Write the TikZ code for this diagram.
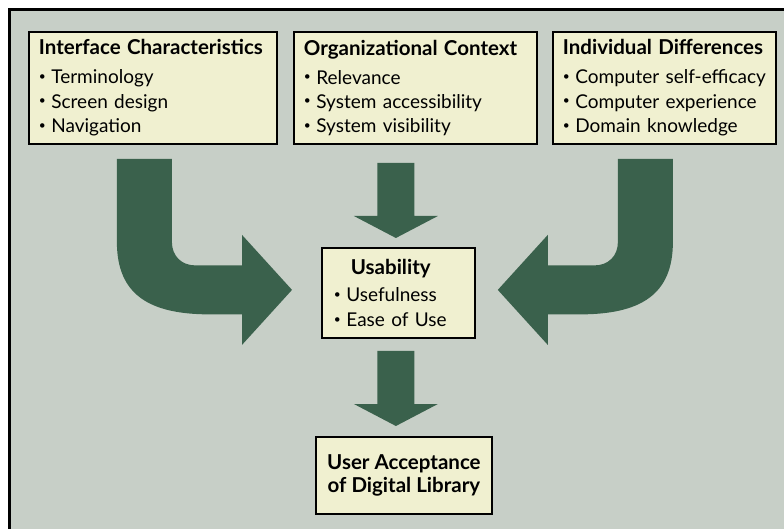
\documentclass[tikz,border=0pt]{standalone}
\usepackage{fontspec}
\setmainfont{Lato}
\usetikzlibrary{calc}

\definecolor{bggrey}{RGB}{199,207,199}
\definecolor{boxfill}{RGB}{240,240,208}
\definecolor{arrowgreen}{RGB}{58,97,76}

\newcommand{\headfont}{\fontsize{20.5}{24.3}\selectfont\bfseries}
\newcommand{\itemfont}{\fontsize{19}{24.3}\selectfont}
\newcommand{\bul}[1]{\mbox{\raisebox{3.5pt}{\fontsize{12}{12}\selectfont\textbullet}\kern5.5pt #1}}

% straight fat arrow: top of shaft, tip
\newcommand{\fatdown}[2]{%
  \fill[arrowgreen] let \p1=#1, \p2=#2 in
    (\x2-18.5pt,\y1) -- (\x2+18.5pt,\y1) -- (\x2+18.5pt,\y2+22pt)
    -- (\x2+42pt,\y2+22pt) -- (\x2,\y2) -- (\x2-42pt,\y2+22pt)
    -- (\x2-18.5pt,\y2+22pt) -- cycle;}

% bent fat arrow: top of shaft, tip, side (1 right, -1 left)
\newcommand{\bentarrow}[3]{%
  \fill[arrowgreen] let \p1=#1, \p2=#2, \n1={#3} in
    (\x1-\n1*27.5pt,\y1) -- (\x1+\n1*27.5pt,\y1)
    -- (\x1+\n1*27.5pt,\y2+48pt)
    .. controls (\x1+\n1*27.5pt,\y2+34pt) and (\x1+\n1*37pt,\y2+24.5pt) .. (\x1+\n1*51pt,\y2+24.5pt)
    -- (\x2-\n1*50pt,\y2+24.5pt) -- (\x2-\n1*50pt,\y2+55pt) -- (\x2,\y2)
    -- (\x2-\n1*50pt,\y2-55pt) -- (\x2-\n1*50pt,\y2-24.5pt)
    -- (\x1+\n1*66pt,\y2-24.5pt)
    .. controls (\x1+\n1*5pt,\y2-24.5pt) and (\x1-\n1*27.5pt,\y2-5pt) .. (\x1-\n1*27.5pt,\y2+48pt)
    -- cycle;}

\tikzset{
  box/.style={draw=black, line width=1.8pt, fill=boxfill, inner xsep=10pt, inner ysep=0pt,
    align=left, anchor=north west, font=\itemfont},
}

\begin{document}
\begin{tikzpicture}[x=1pt,y=-1pt]
    \useasboundingbox (0,0) rectangle (784,529);
    \fill[bggrey] (9.5,9.5) rectangle (784,529);
    \draw[line width=3pt] (9.5,529) -- (9.5,9.5) -- (784,9.5);

    % factors
    \node[box, text width=228pt, minimum height=112pt] (iface) at (28,31)
        {{\headfont Interface Characteristics}\\[4.7pt]\bul{Terminology}\\ \bul{Screen design}\\ \bul{Navigation}};
    \node[box, text width=223pt, minimum height=112pt] (org) at (293,31)
        {{\headfont Organizational Context}\\[4.7pt]\bul{Relevance}\\ \bul{System accessibility}\\ \bul{System visibility}};
    \node[box, text width=203pt, minimum height=112pt] (indiv) at (552,31)
        {{\headfont Individual Differences}\\[4.7pt]\bul{Computer self-efficacy}\\ \bul{Computer experience}\\ \bul{Domain knowledge}};

    \node[box, inner xsep=12pt, text width=129pt, minimum height=90pt, font=\fontsize{19}{25}\selectfont] (usab) at (321,247)
        {\hspace*{17pt}{\headfont Usability}\\[2.3pt]\bul{Usefulness}\\ \bul{Ease of Use}};

    \node[box, align=center, minimum width=176pt, minimum height=77pt, font=\fontsize{20.5}{23.3}\selectfont\bfseries] (ua) at (315,436)
        {User Acceptance\\of Digital Library};

    % arrows
    \bentarrow{($(iface.south)+(-8.5,14)$)}{($(usab.west)+(-29,-3)$)}{1}
    \bentarrow{($(indiv.south)+(-19,14)$)}{($(usab.east)+(22,-3)$)}{-1}
    \fatdown{($(iface.south -| usab.north)+(0,18)$)}{($(usab.north)+(-2.5,-9)$)}
    \fatdown{($(usab.south)+(0,12)$)}{($(ua.north -| usab.south)+(-2.5,-10)$)}
\end{tikzpicture}
\end{document}
